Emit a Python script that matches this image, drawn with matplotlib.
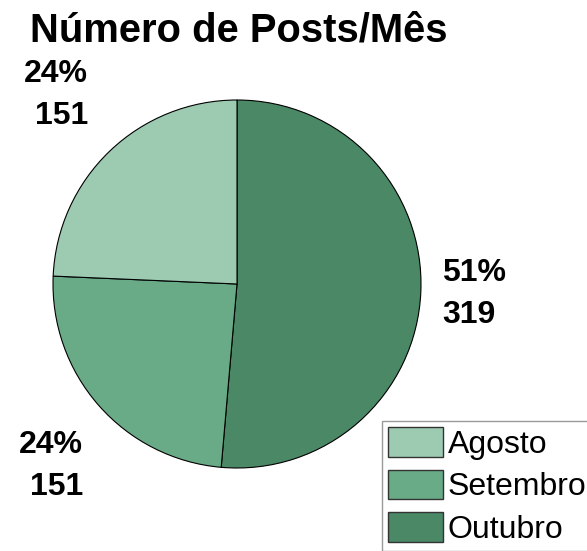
import matplotlib.pyplot as plt
import numpy as np

plt.rcParams['font.family'] = ['Liberation Sans', 'DejaVu Sans']

# data
months = ['Agosto', 'Setembro', 'Outubro']
posts = [151, 151, 319]
colors = ['#9ccbb1', '#6aab87', '#4a8866']

W, H = 587, 551
fig = plt.figure(figsize=(W / 100, H / 100), dpi=100)

# pie axes: centre ~ (237, 284) px, radius ~ 184 px
cx, cy, r = 237, 284, 184
ax = fig.add_axes([(cx - r) / W, (H - cy - r) / H, 2 * r / W, 2 * r / H])

# draw clockwise from the top: Outubro, Setembro, Agosto
order = [2, 1, 0]
wedges, _ = ax.pie([posts[i] for i in order], colors=[colors[i] for i in order],
                   startangle=90, counterclock=False, radius=1,
                   wedgeprops=dict(edgecolor='black', linewidth=0.8))
ax.set_xlim(-1, 1)
ax.set_ylim(-1, 1)
ax.set_aspect('equal')
ax.axis('off')

total = sum(posts)
pct = [100 * v / total for v in posts]

# label positions in px (centre of two-line block) and alignment
lab_pos = {0: (88, 95, 'right'), 1: (83, 466, 'right'), 2: (442, 294, 'left')}
for i in range(3):
    x, y, ha = lab_pos[i]
    fig.text(x / W, 1 - y / H, f"{pct[i]:.0f}%\n{posts[i]}", ha=ha, va='center',
             multialignment=ha, fontsize=23, fontweight='bold', linespacing=1.5)

fig.text(30 / W, 1 - 31 / H, 'Número de Posts/Mês', ha='left', va='center',
         fontsize=28.8, fontweight='bold')

handles = [wedges[order.index(i)] for i in range(3)]
leg = fig.legend(handles, months, loc='upper left', bbox_to_anchor=(382 / W, 1 - 421 / H),
                 bbox_transform=fig.transFigure, fontsize=23, frameon=True, fancybox=False,
                 edgecolor='#808080', borderpad=0.2, borderaxespad=0, handlelength=1.7,
                 handleheight=1.05, handletextpad=0.15, labelspacing=0.3)
leg.get_frame().set_linewidth(1.0)
for h in leg.legend_handles:
    h.set_edgecolor('#333333')
    h.set_linewidth(1.0)

fig.savefig('out.png', dpi=100)
